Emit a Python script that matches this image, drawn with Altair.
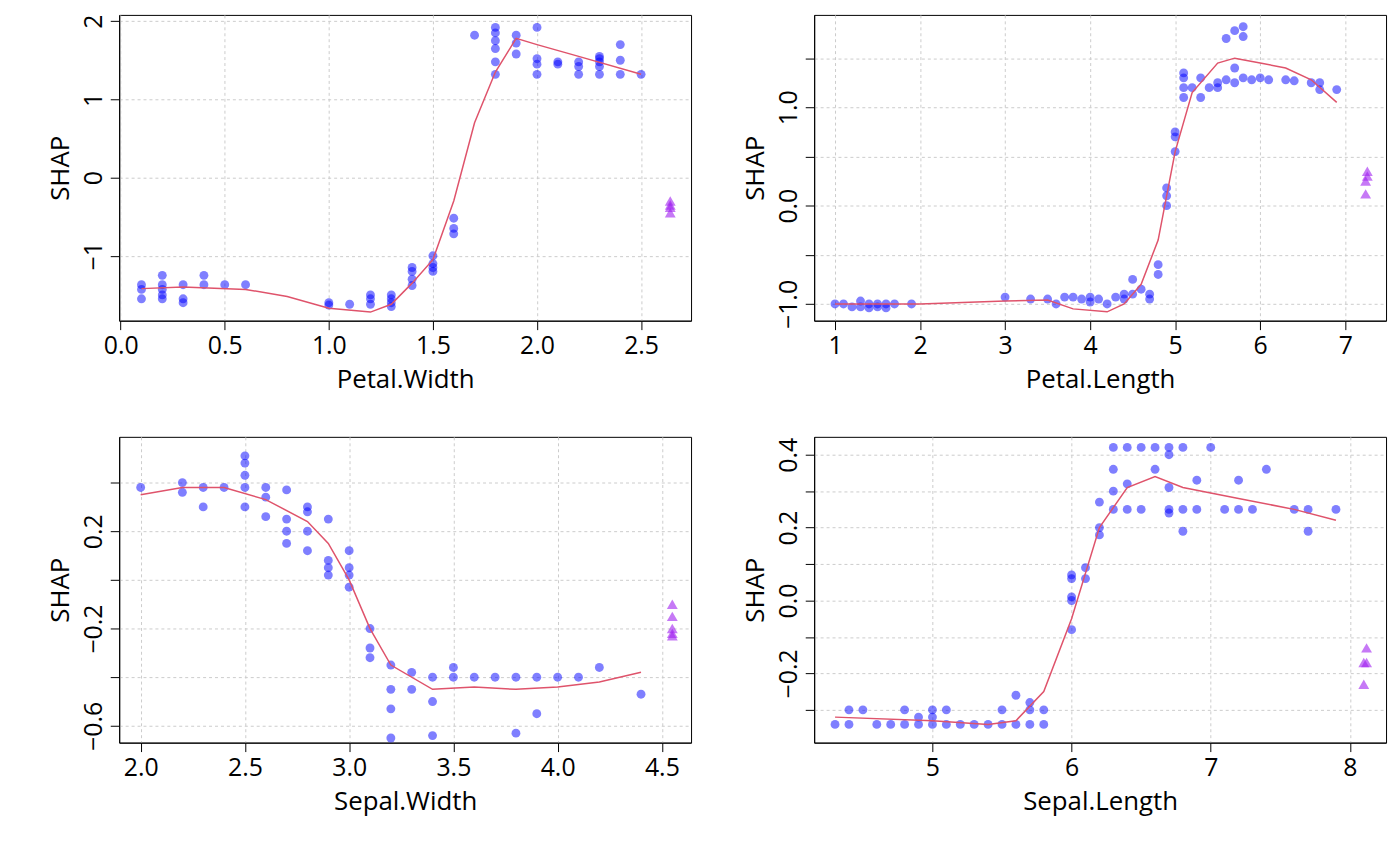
import altair as alt
import pandas as pd

# Petal.Width
pw_x = [0.1, 0.1, 0.1, 0.2, 0.2, 0.2, 0.2, 0.2, 0.3, 0.3, 0.3, 0.4, 0.4, 0.5, 0.6,
        1.0, 1.0, 1.1, 1.2, 1.2, 1.2, 1.3, 1.3, 1.3, 1.3, 1.4, 1.4, 1.4, 1.4,
        1.5, 1.5, 1.5, 1.5, 1.6, 1.6, 1.6, 1.7, 1.8, 1.8, 1.8, 1.8, 1.8, 1.8,
        1.9, 1.9, 1.9, 2.0, 2.0, 2.0, 2.0, 2.1, 2.1, 2.2, 2.2, 2.2,
        2.3, 2.3, 2.3, 2.3, 2.3, 2.4, 2.4, 2.4, 2.5]
pw_y = [-1.37, -1.43, -1.55, -1.25, -1.37, -1.43, -1.5, -1.55, -1.37, -1.55, -1.6, -1.25, -1.37, -1.37, -1.37,
        -1.6, -1.63, -1.62, -1.5, -1.55, -1.62, -1.5, -1.55, -1.6, -1.65, -1.15, -1.2, -1.3, -1.38,
        -1.0, -1.1, -1.15, -1.2, -0.52, -0.65, -0.72, 1.82, 1.32, 1.48, 1.65, 1.75, 1.85, 1.92,
        1.58, 1.72, 1.82, 1.32, 1.45, 1.52, 1.92, 1.45, 1.48, 1.32, 1.42, 1.48,
        1.32, 1.42, 1.48, 1.52, 1.55, 1.32, 1.5, 1.7, 1.32]
pw_lx = [0.1, 0.3, 0.6, 0.8, 1.0, 1.2, 1.3, 1.4, 1.5, 1.6, 1.7, 1.8, 1.9, 2.0, 2.2, 2.5]
pw_ly = [-1.42, -1.4, -1.43, -1.52, -1.67, -1.72, -1.62, -1.35, -1.05, -0.3, 0.7, 1.35, 1.78, 1.7, 1.55, 1.32]
pw_tx = [2.64, 2.64, 2.64, 2.64]
pw_ty = [-0.3, -0.35, -0.38, -0.45]

# Petal.Length
pl_x = [1.0, 1.1, 1.2, 1.3, 1.3, 1.4, 1.4, 1.5, 1.5, 1.6, 1.6, 1.7, 1.9,
        3.0, 3.3, 3.5, 3.6, 3.7, 3.8, 3.9, 4.0, 4.0, 4.1, 4.2, 4.3, 4.4, 4.4, 4.5, 4.5,
        4.6, 4.7, 4.7, 4.8, 4.8, 4.9, 4.9, 4.9, 5.0, 5.0, 5.0, 5.1, 5.1, 5.1, 5.1,
        5.2, 5.3, 5.3, 5.4, 5.5, 5.5, 5.6, 5.6, 5.7, 5.7, 5.7, 5.8, 5.8, 5.8,
        5.9, 6.0, 6.1, 6.3, 6.4, 6.6, 6.7, 6.7, 6.9]
pl_y = [-1.0, -1.0, -1.03, -0.97, -1.03, -1.0, -1.04, -1.0, -1.03, -1.0, -1.04, -1.0, -1.0,
        -0.93, -0.95, -0.95, -1.0, -0.93, -0.93, -0.95, -0.93, -0.98, -0.95, -1.0, -0.93, -0.95, -0.9, -0.9, -0.75,
        -0.85, -0.9, -0.95, -0.6, -0.7, 0.0, 0.1, 0.18, 0.55, 0.7, 0.75, 1.1, 1.2, 1.3, 1.35,
        1.2, 1.1, 1.3, 1.2, 1.2, 1.25, 1.28, 1.7, 1.25, 1.4, 1.78, 1.3, 1.72, 1.82,
        1.28, 1.3, 1.28, 1.28, 1.27, 1.25, 1.18, 1.25, 1.18]
pl_lx = [1.0, 2.0, 3.0, 3.5, 3.8, 4.2, 4.4, 4.6, 4.8, 5.0, 5.2, 5.5, 5.7, 6.0, 6.3, 6.6, 6.9]
pl_ly = [-1.0, -1.0, -0.97, -0.96, -1.05, -1.08, -1.0, -0.8, -0.35, 0.55, 1.15, 1.45, 1.5, 1.45, 1.4, 1.28, 1.05]
pl_tx = [7.26, 7.26, 7.24, 7.24]
pl_ty = [0.35, 0.3, 0.25, 0.12]

# Sepal.Width
sw_x = [2.0, 2.2, 2.2, 2.3, 2.3, 2.4, 2.5, 2.5, 2.5, 2.5, 2.5, 2.6, 2.6, 2.6,
        2.7, 2.7, 2.7, 2.7, 2.8, 2.8, 2.8, 2.8, 2.9, 2.9, 2.9, 2.9, 3.0, 3.0, 3.0, 3.0,
        3.1, 3.1, 3.1, 3.2, 3.2, 3.2, 3.2, 3.3, 3.3, 3.4, 3.4, 3.4, 3.5, 3.5, 3.6, 3.7,
        3.8, 3.8, 3.9, 3.9, 4.0, 4.1, 4.2, 4.4]
sw_y = [0.38, 0.36, 0.4, 0.38, 0.3, 0.38, 0.3, 0.38, 0.43, 0.48, 0.51, 0.38, 0.34, 0.26,
        0.37, 0.2, 0.15, 0.25, 0.3, 0.28, 0.2, 0.12, 0.25, 0.05, 0.08, 0.02, 0.12, 0.05, 0.02, -0.03,
        -0.2, -0.28, -0.32, -0.35, -0.45, -0.53, -0.65, -0.38, -0.45, -0.4, -0.5, -0.64, -0.36, -0.4, -0.4, -0.4,
        -0.4, -0.63, -0.4, -0.55, -0.4, -0.4, -0.36, -0.47]
sw_lx = [2.0, 2.2, 2.4, 2.6, 2.8, 2.9, 3.0, 3.1, 3.2, 3.4, 3.6, 3.8, 4.0, 4.2, 4.4]
sw_ly = [0.35, 0.38, 0.38, 0.33, 0.24, 0.15, 0.0, -0.2, -0.35, -0.45, -0.44, -0.45, -0.44, -0.42, -0.38]
sw_tx = [4.55, 4.55, 4.55, 4.55, 4.55]
sw_ty = [-0.1, -0.15, -0.2, -0.22, -0.23]

# Sepal.Length
sl_x = [4.3, 4.4, 4.4, 4.5, 4.6, 4.7, 4.8, 4.8, 4.9, 4.9, 5.0, 5.0, 5.0, 5.1, 5.1, 5.2,
        5.3, 5.4, 5.5, 5.5, 5.6, 5.6, 5.7, 5.7, 5.7, 5.8, 5.8,
        6.0, 6.0, 6.0, 6.0, 6.0, 6.1, 6.1, 6.2, 6.2, 6.2, 6.3, 6.3, 6.3, 6.3,
        6.4, 6.4, 6.4, 6.5, 6.5, 6.6, 6.6, 6.7, 6.7, 6.7, 6.7, 6.7, 6.8, 6.8, 6.8,
        6.9, 6.9, 7.0, 7.1, 7.2, 7.2, 7.3, 7.4, 7.6, 7.7, 7.7, 7.9]
sl_y = [-0.34, -0.34, -0.3, -0.3, -0.34, -0.34, -0.34, -0.3, -0.34, -0.32, -0.34, -0.3, -0.32, -0.34, -0.3, -0.34,
        -0.34, -0.34, -0.34, -0.3, -0.26, -0.34, -0.28, -0.3, -0.34, -0.3, -0.34,
        -0.08, 0.0, 0.01, 0.06, 0.07, 0.09, 0.06, 0.18, 0.2, 0.27, 0.25, 0.3, 0.36, 0.42,
        0.25, 0.32, 0.42, 0.25, 0.42, 0.36, 0.42, 0.25, 0.24, 0.31, 0.4, 0.42, 0.25, 0.19, 0.42,
        0.25, 0.33, 0.42, 0.25, 0.25, 0.33, 0.25, 0.36, 0.25, 0.25, 0.19, 0.25]
sl_lx = [4.3, 5.0, 5.4, 5.6, 5.8, 6.0, 6.2, 6.4, 6.6, 6.8, 7.2, 7.6, 7.9]
sl_ly = [-0.32, -0.33, -0.34, -0.33, -0.25, -0.05, 0.2, 0.31, 0.34, 0.31, 0.28, 0.25, 0.22]
sl_tx = [8.12, 8.1, 8.12, 8.1]
sl_ty = [-0.13, -0.17, -0.17, -0.23]

FONT = "Open Sans"
LBL = dict(labelFont=FONT, labelFontSize=25, labelColor="black", labelOverlap=False,
           labelFlush=False)


def make_panel(name, px, py, lx, ly, tx, ty, xdom, ydom, xticks, xfmt, yticks, ylabels, yfmt):
    df = pd.concat([
        pd.DataFrame({"x": px, "y": py, "k": "p"}),
        pd.DataFrame({"x": lx, "y": ly, "k": "l"}),
        pd.DataFrame({"x": tx, "y": ty, "k": "t"}),
    ])
    yaxis = dict(values=yticks, format=yfmt, labelAngle=-90, labelAlign="center",
                 labelBaseline="bottom", **LBL)
    if ylabels is not None:
        lab = " || ".join(f"abs(datum.value - ({v})) < 1e-6" for v in ylabels)
        yaxis["labelExpr"] = f"({lab}) ? datum.label : ''"
    base = alt.Chart(df).encode(
        x=alt.X("x:Q", title=name, scale=alt.Scale(domain=xdom, nice=False, zero=False),
                axis=alt.Axis(values=xticks, format=xfmt, **LBL)),
        y=alt.Y("y:Q", title="SHAP", scale=alt.Scale(domain=ydom, nice=False, zero=False),
                axis=alt.Axis(**yaxis)),
    )
    pts = base.transform_filter("datum.k == 'p'").mark_circle(
        size=80, color="#0000ff", opacity=0.5)
    line = base.transform_filter("datum.k == 'l'").mark_line(
        color="#DF536B", strokeWidth=1.5)
    tri = base.transform_filter("datum.k == 't'").mark_point(
        shape="triangle-up", filled=True, size=120, color="#A020F0", opacity=0.6)
    return alt.layer(pts, line, tri).properties(width=576, height=308)


p1 = make_panel("Petal.Width", pw_x, pw_y, pw_lx, pw_ly, pw_tx, pw_ty,
                [-0.007, 2.74], [-1.83, 2.08], [0, 0.5, 1.0, 1.5, 2.0, 2.5], ".1f",
                [-1, 0, 1, 2], None, "d")
p2 = make_panel("Petal.Length", pl_x, pl_y, pl_lx, pl_ly, pl_tx, pl_ty,
                [0.755, 7.48], [-1.17, 1.94], [1, 2, 3, 4, 5, 6, 7], "d",
                [-1, -0.5, 0, 0.5, 1, 1.5], [-1, 0, 1], ".1f")
p3 = make_panel("Sepal.Width", sw_x, sw_y, sw_lx, sw_ly, sw_tx, sw_ty,
                [1.897, 4.64], [-0.669, 0.588], [2.0, 2.5, 3.0, 3.5, 4.0, 4.5], ".1f",
                [-0.6, -0.4, -0.2, 0, 0.2, 0.4], [-0.6, -0.2, 0.2], ".1f")
p4 = make_panel("Sepal.Length", sl_x, sl_y, sl_lx, sl_ly, sl_tx, sl_ty,
                [4.15, 8.26], [-0.39, 0.449], [5, 6, 7, 8], "d",
                [-0.3, -0.2, -0.1, 0, 0.1, 0.2, 0.3, 0.4], [-0.2, 0, 0.2, 0.4], ".1f")

chart = alt.vconcat(
    alt.hconcat(p1, p2, spacing=50),
    alt.hconcat(p3, p4, spacing=50),
    spacing=43,
).properties(
    padding={"left": 39, "top": 2, "right": 5, "bottom": 5},
    background="white",
).configure_view(
    stroke="black", strokeWidth=1
).configure_axis(
    titleFont=FONT, titleFontSize=26,
    titleFontWeight="normal", titleColor="black",
    domainColor="black", tickColor="black", tickSize=9, labelPadding=4,
    titlePadding=8, gridColor="#cccccc", gridDash=[3, 3], grid=True,
)

chart.save("out.html", embed_options={"renderer": "svg", "actions": False})
